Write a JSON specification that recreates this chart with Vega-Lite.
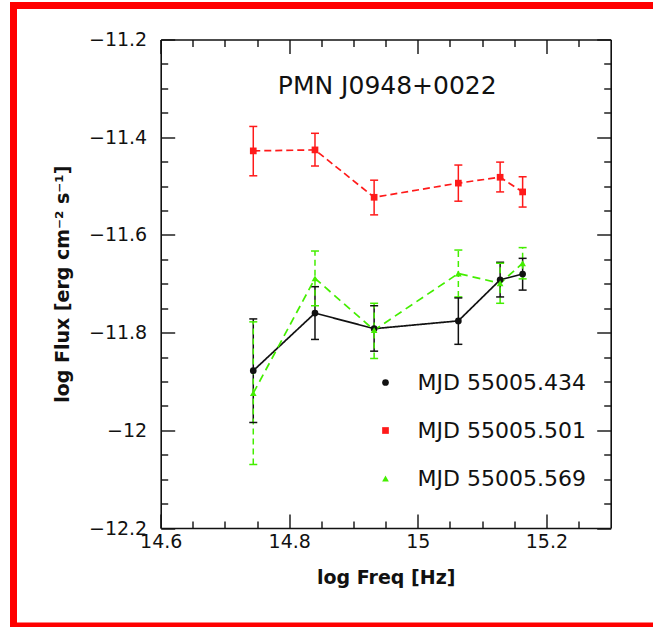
{
  "$schema": "https://vega.github.io/schema/vega-lite/v6.json",
  "autosize": "none",
  "width": 639.5,
  "height": 620.5,
  "padding": {"left": 13.5, "top": 5.5, "right": 0, "bottom": 1},
  "background": "white",
  "config": {
    "view": {"stroke": "#ff0000", "strokeWidth": 7, "strokeDash": [639.5, 620.5, 1261], "fill": "white"},
    "axis": {
      "grid": false,
      "domainColor": "#111111",
      "domainWidth": 1.6,
      "tickColor": "#111111",
      "tickWidth": 1.4,
      "labelFont": "DejaVu Sans",
      "labelFontSize": 19,
      "labelColor": "#111111",
      "labelFlush": false,
      "labelOverlap": false,
      "labelBound": false,
      "titleFont": "DejaVu Sans",
      "titleFontSize": 19,
      "titleFontWeight": "bold",
      "titleColor": "#111111"
    }
  },
  "title": {
    "text": "PMN J0948+0022",
    "font": "DejaVu Sans",
    "fontSize": 25,
    "fontWeight": "normal",
    "color": "#111111",
    "anchor": "middle",
    "frame": "group",
    "dx": 54,
    "dy": 97
  },
  "data": {
    "values": [
      {"series": "MJD 55005.434", "freq": 14.744, "flux": -11.878, "lo": -11.984, "hi": -11.772},
      {"series": "MJD 55005.434", "freq": 14.840, "flux": -11.760, "lo": -11.814, "hi": -11.706},
      {"series": "MJD 55005.434", "freq": 14.932, "flux": -11.792, "lo": -11.838, "hi": -11.745},
      {"series": "MJD 55005.434", "freq": 15.063, "flux": -11.776, "lo": -11.824, "hi": -11.729},
      {"series": "MJD 55005.434", "freq": 15.128, "flux": -11.692, "lo": -11.727, "hi": -11.656},
      {"series": "MJD 55005.434", "freq": 15.163, "flux": -11.680, "lo": -11.713, "hi": -11.648},
      {"series": "MJD 55005.501", "freq": 14.744, "flux": -11.428, "lo": -11.479, "hi": -11.378},
      {"series": "MJD 55005.501", "freq": 14.840, "flux": -11.426, "lo": -11.459, "hi": -11.392},
      {"series": "MJD 55005.501", "freq": 14.932, "flux": -11.523, "lo": -11.559, "hi": -11.488},
      {"series": "MJD 55005.501", "freq": 15.063, "flux": -11.494, "lo": -11.531, "hi": -11.457},
      {"series": "MJD 55005.501", "freq": 15.128, "flux": -11.482, "lo": -11.512, "hi": -11.451},
      {"series": "MJD 55005.501", "freq": 15.163, "flux": -11.512, "lo": -11.543, "hi": -11.481},
      {"series": "MJD 55005.569", "freq": 14.744, "flux": -11.924, "lo": -12.070, "hi": -11.778},
      {"series": "MJD 55005.569", "freq": 14.840, "flux": -11.689, "lo": -11.745, "hi": -11.633},
      {"series": "MJD 55005.569", "freq": 14.932, "flux": -11.795, "lo": -11.853, "hi": -11.740},
      {"series": "MJD 55005.569", "freq": 15.063, "flux": -11.679, "lo": -11.727, "hi": -11.631},
      {"series": "MJD 55005.569", "freq": 15.128, "flux": -11.699, "lo": -11.740, "hi": -11.658},
      {"series": "MJD 55005.569", "freq": 15.163, "flux": -11.658, "lo": -11.690, "hi": -11.626}
    ]
  },
  "resolve": {
    "scale": {"strokeDash": "independent"},
    "axis": {"x": "independent", "y": "independent"}
  },
  "layer": [
    {
      "mark": {"type": "rule", "strokeWidth": 1.5},
      "encoding": {
        "x": {
          "field": "freq", "type": "quantitative",
          "scale": {"domain": [14.6, 15.3], "range": [147.2, 597.2], "nice": false, "zero": false},
          "axis": {
            "orient": "bottom",
            "offset": -98,
            "values": [14.6, 14.8, 15.0, 15.2],
            "tickSize": -14,
            "format": "~g",
            "labelPadding": 18,
            "title": "log Freq [Hz]",
            "titlePadding": 17
          }
        },
        "y": {
          "field": "lo", "type": "quantitative",
          "scale": {"domain": [-12.2, -11.2], "range": [522.5, 34], "nice": false, "zero": false},
          "axis": {
            "orient": "left",
            "offset": -147.2,
            "values": [-12.2, -12.0, -11.8, -11.6, -11.4, -11.2],
            "tickSize": -14,
            "format": "~g",
            "labelPadding": 28,
            "title": "log Flux [erg cm⁻² s⁻¹]",
            "titlePadding": 16
          }
        },
        "y2": {"field": "hi"},
        "stroke": {
          "field": "series", "type": "nominal",
          "scale": {"range": ["#111111", "#ff1a1a", "#44ee00"]},
          "legend": null
        },
        "strokeDash": {
          "field": "series", "type": "nominal",
          "scale": {"range": [[1, 0], [1, 0], [6, 4]]},
          "legend": null
        }
      }
    },
    {
      "mark": {"type": "rule", "strokeWidth": 1.5, "xOffset": -4, "x2Offset": 4},
      "encoding": {
        "x": {
          "field": "freq", "type": "quantitative",
          "axis": {
            "orient": "bottom",
            "offset": -98,
            "values": [14.65, 14.7, 14.75, 14.85, 14.9, 14.95, 15.05, 15.1, 15.15, 15.25],
            "tickSize": -7,
            "domain": false,
            "labels": false,
            "title": null
          }
        },
        "x2": {"field": "freq"},
        "y": {
          "field": "lo", "type": "quantitative",
          "axis": {
            "orient": "left",
            "offset": -147.2,
            "values": [-12.15, -12.1, -12.05, -11.95, -11.9, -11.85, -11.75, -11.7, -11.65, -11.55, -11.5, -11.45, -11.35, -11.3, -11.25],
            "tickSize": -7,
            "domain": false,
            "labels": false,
            "title": null
          }
        },
        "stroke": {"field": "series", "type": "nominal", "legend": null}
      }
    },
    {
      "mark": {"type": "rule", "strokeWidth": 1.5, "xOffset": -4, "x2Offset": 4},
      "encoding": {
        "x": {
          "field": "freq", "type": "quantitative",
          "axis": {
            "orient": "top",
            "offset": -34,
            "values": [14.6, 14.8, 15.0, 15.2],
            "tickSize": -14,
            "labels": false,
            "title": null
          }
        },
        "x2": {"field": "freq"},
        "y": {
          "field": "hi", "type": "quantitative",
          "axis": {
            "orient": "right",
            "offset": -42.3,
            "values": [-12.2, -12.0, -11.8, -11.6, -11.4, -11.2],
            "tickSize": -14,
            "labels": false,
            "title": null
          }
        },
        "stroke": {"field": "series", "type": "nominal", "legend": null}
      }
    },
    {
      "mark": {"type": "line", "strokeWidth": 1.7},
      "encoding": {
        "x": {
          "field": "freq", "type": "quantitative",
          "axis": {
            "orient": "top",
            "offset": -34,
            "values": [14.65, 14.7, 14.75, 14.85, 14.9, 14.95, 15.05, 15.1, 15.15, 15.25],
            "tickSize": -7,
            "domain": false,
            "labels": false,
            "title": null
          }
        },
        "y": {
          "field": "flux", "type": "quantitative",
          "axis": {
            "orient": "right",
            "offset": -42.3,
            "values": [-12.15, -12.1, -12.05, -11.95, -11.9, -11.85, -11.75, -11.7, -11.65, -11.55, -11.5, -11.45, -11.35, -11.3, -11.25],
            "tickSize": -7,
            "domain": false,
            "labels": false,
            "title": null
          }
        },
        "stroke": {"field": "series", "type": "nominal", "legend": null},
        "strokeDash": {
          "field": "series", "type": "nominal",
          "scale": {"range": [[1, 0], [7, 4], [8, 5]]},
          "legend": null
        }
      }
    },
    {
      "mark": {"type": "point", "filled": true, "size": 45, "opacity": 1},
      "encoding": {
        "x": {"field": "freq", "type": "quantitative", "axis": null},
        "y": {"field": "flux", "type": "quantitative", "axis": null},
        "color": {
          "field": "series", "type": "nominal",
          "scale": {"domain": ["MJD 55005.434", "MJD 55005.501", "MJD 55005.569"], "range": ["#111111", "#ff1a1a", "#44ee00"]},
          "legend": {
            "orient": "none",
            "legendX": 361,
            "legendY": 366,
            "title": null,
            "symbolSize": 45,
            "labelFont": "DejaVu Sans",
            "labelFontSize": 22,
            "labelColor": "#111111",
            "labelLimit": 0,
            "labelOffset": 21,
            "rowPadding": 26,
            "padding": 0
          }
        },
        "shape": {
          "field": "series", "type": "nominal",
          "scale": {"domain": ["MJD 55005.434", "MJD 55005.501", "MJD 55005.569"], "range": ["circle", "square", "triangle-up"]},
          "legend": {
            "orient": "none",
            "legendX": 361,
            "legendY": 366,
            "title": null,
            "symbolSize": 45,
            "labelFont": "DejaVu Sans",
            "labelFontSize": 22,
            "labelColor": "#111111",
            "labelLimit": 0,
            "labelOffset": 21,
            "rowPadding": 26,
            "padding": 0
          }
        }
      }
    }
  ]
}
